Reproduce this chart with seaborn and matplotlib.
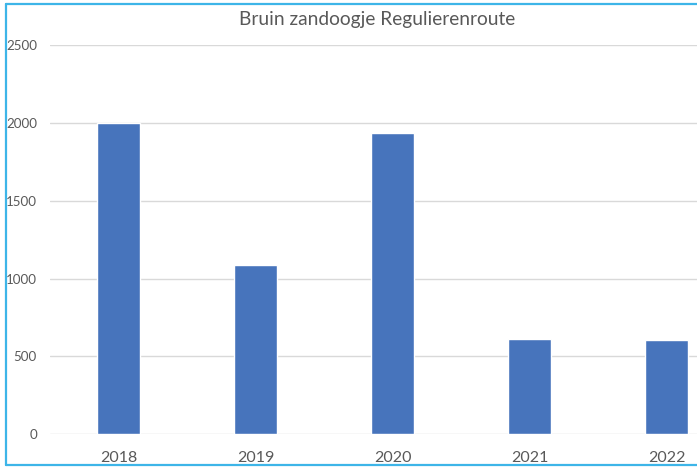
import pandas as pd
import seaborn as sns
import matplotlib.pyplot as plt
from matplotlib.lines import Line2D

# Data
years = ["2018", "2019", "2020", "2021", "2022"]
counts = [2000, 1087, 1937, 614, 607]

df = pd.DataFrame({"year": years, "count": counts})

sns.set_style("white")
plt.rcParams["font.family"] = ["Lato", "DejaVu Sans"]

fig = plt.figure(figsize=(6.97, 4.68), dpi=100)
# plot area is cut off on the right side in the reference
ax = fig.add_axes([50 / 697, 33.7 / 468, 685 / 697, 389.3 / 468])

sns.barplot(data=df, x="year", y="count", color="#4774BC", width=0.31,
            saturation=1, ax=ax, zorder=3)

ax.set_xlim(-0.5, 4.5)
ax.set_ylim(0, 2500)
ax.set_yticks(range(0, 2501, 500))
ax.yaxis.grid(True, color="#d9d9d9", linewidth=1)
ax.set_axisbelow(True)
for s in ax.spines.values():
    s.set_visible(False)
ax.set_xlabel("")
ax.set_ylabel("")
ax.tick_params(axis="y", length=0, pad=9.4, labelsize=9.6, labelcolor="#595959")
ax.tick_params(axis="x", length=0, pad=12, labelsize=11.5, labelcolor="#595959")

fig.text(377 / 697, 1 - 19 / 468, "Bruin zandoogje Regulierenroute",
         ha="center", va="center", fontsize=13.8, color="#595959")

# light blue frame (left, top, bottom) around the chart
c = "#3db5e8"
x0, y0, y1 = 5.5 / 697, 1 - 465 / 468, 1 - 4 / 468
for xs, ys in [([x0, x0], [y0, y1]), ([x0, 1], [y1, y1]), ([x0, 1], [y0, y0])]:
    fig.add_artist(Line2D(xs, ys, transform=fig.transFigure, color=c,
                          linewidth=1.6))

fig.savefig("out.png", dpi=100)
